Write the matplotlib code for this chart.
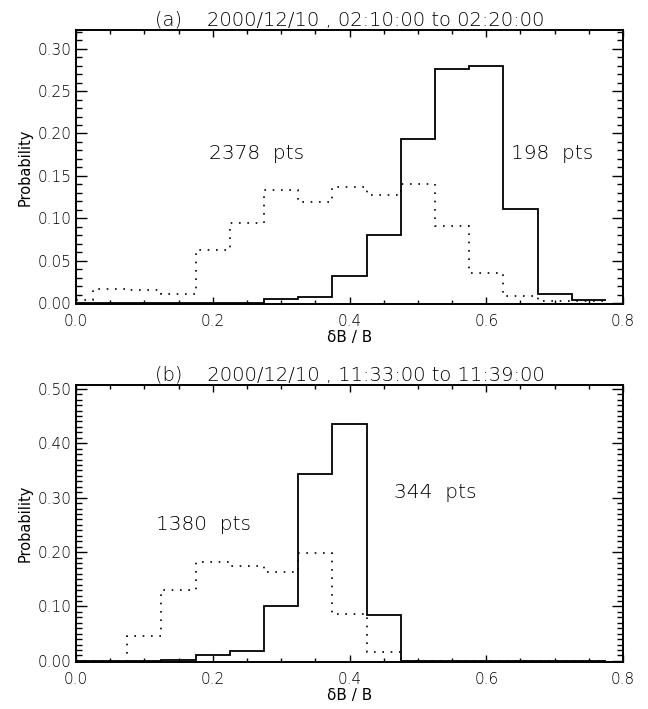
import numpy as np
import matplotlib
matplotlib.use("Agg")
import matplotlib.pyplot as plt
from matplotlib.ticker import MultipleLocator, FormatStrFormatter

plt.rcParams['font.family'] = ['DejaVu Sans']
plt.rcParams['font.weight'] = 'light'

# bin centres (dB/B), width 0.05
bin_centers = [0.00, 0.05, 0.10, 0.15, 0.20, 0.25, 0.30, 0.35,
               0.40, 0.45, 0.50, 0.55, 0.60, 0.65, 0.70, 0.75]

# panel (a) 2000/12/10 02:10-02:20
a_dotted = [0.0035, 0.017, 0.015, 0.011, 0.063, 0.095, 0.133, 0.119,
            0.137, 0.127, 0.140, 0.091, 0.035, 0.009, 0.003, 0.002]
a_solid = [0.0, 0.0, 0.0, 0.0, 0.0, 0.0, 0.005, 0.007,
           0.032, 0.080, 0.194, 0.276, 0.280, 0.111, 0.0106, 0.0035]

# panel (b) 2000/12/10 11:33-11:39
b_dotted = [0.0, 0.0, 0.046, 0.130, 0.182, 0.174, 0.163, 0.198,
            0.086, 0.016, 0.0, 0.0, 0.0, 0.0, 0.0, 0.0]
b_solid = [0.0, 0.0, 0.0, 0.0025, 0.0116, 0.019, 0.1006, 0.343,
           0.435, 0.084, 0.0, 0.0, 0.0, 0.0, 0.0, 0.0]

titles = ["(a)    2000/12/10 , 02:10:00 to 02:20:00",
          "(b)    2000/12/10 , 11:33:00 to 11:39:00"]
labels_a = [("2378  pts", 0.264, 0.176), ("198  pts", 0.696, 0.176)]
labels_b = [("1380  pts", 0.186, 0.250), ("344  pts", 0.525, 0.309)]

W, H = 648, 709
fig = plt.figure(figsize=(W / 100, H / 100), dpi=100)


def px_axes(left, top, right, bottom):
    return fig.add_axes([left / W, (H - bottom) / H, (right - left) / W, (bottom - top) / H])


def edges_from(centers):
    c = np.asarray(centers)
    e = np.concatenate([[c[0]], c + 0.025])
    return e


def setup(ax, ylim, ymajor, yminor, title):
    ax.set_xlim(0.0, 0.8)
    ax.set_ylim(*ylim)
    ax.xaxis.set_major_locator(MultipleLocator(0.2))
    ax.xaxis.set_minor_locator(MultipleLocator(0.05))
    ax.yaxis.set_major_locator(MultipleLocator(ymajor))
    ax.yaxis.set_minor_locator(MultipleLocator(yminor))
    ax.xaxis.set_major_formatter(FormatStrFormatter('%.1f'))
    ax.yaxis.set_major_formatter(FormatStrFormatter('%.2f'))
    ax.tick_params(axis='both', which='both', direction='in', top=True, right=True,
                   labelsize=11, width=1.0, colors='black')
    ax.tick_params(axis='x', which='major', length=5, pad=7)
    ax.tick_params(axis='x', which='minor', length=3)
    ax.tick_params(axis='y', which='major', length=8, pad=3)
    ax.tick_params(axis='y', which='minor', length=4)
    for s in ax.spines.values():
        s.set_linewidth(1.4)
    ax.set_title(title, fontsize=14, pad=3, fontweight='light')
    ax.set_xlabel('δB / B', fontsize=11, labelpad=1)
    ax.set_ylabel('Probability', fontsize=10.5, labelpad=4)


edges = edges_from(bin_centers)

ax1 = px_axes(76, 30, 623, 304)
setup(ax1, (-0.001, 0.322), 0.05, 0.01, titles[0])
ax1.stairs(a_dotted, edges, baseline=None, color='black', lw=1.2, linestyle=(0, (1, 4)))
ax1.stairs(a_solid, edges, baseline=None, color='black', lw=1.3)
for t, x, y in labels_a:
    ax1.text(x, y, t, fontsize=14.5, ha='center', va='center')

ax2 = px_axes(76, 385, 623, 662)
setup(ax2, (-0.002, 0.507), 0.10, 0.01, titles[1])
ax2.stairs(b_dotted, edges, baseline=None, color='black', lw=1.2, linestyle=(0, (1, 4)))
ax2.stairs(b_solid, edges, baseline=None, color='black', lw=1.3)
for t, x, y in labels_b:
    ax2.text(x, y, t, fontsize=14.5, ha='center', va='center')

fig.savefig('out.png', dpi=100)
